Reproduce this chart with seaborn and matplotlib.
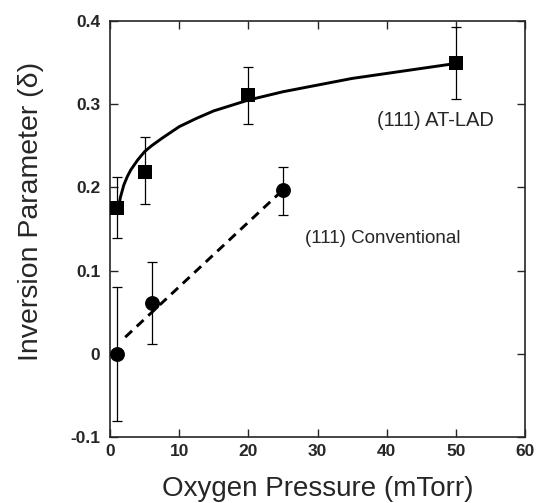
import matplotlib
matplotlib.use("Agg")
import matplotlib.pyplot as plt
import seaborn as sns
import pandas as pd

# AT-LAD (squares)
atlad_x = [1, 5, 20, 50]
atlad_y = [0.175, 0.219, 0.311, 0.350]
atlad_lo = [0.139, 0.180, 0.276, 0.306]
atlad_hi = [0.212, 0.261, 0.345, 0.393]

# fitted curve
fit_x = [1.2, 1.5, 2, 2.5, 3, 4, 5, 6, 7.5, 10, 12.5, 15, 20, 25, 30, 35, 40, 45, 50]
fit_y = [0.174, 0.188, 0.203, 0.213, 0.221, 0.233, 0.243, 0.250, 0.259, 0.273,
         0.283, 0.292, 0.305, 0.315, 0.323, 0.331, 0.337, 0.343, 0.349]

# conventional (circles)
conv_x = [1, 6, 25]
conv_y = [0.0, 0.061, 0.197]
conv_lo = [-0.081, 0.012, 0.167]
conv_hi = [0.080, 0.110, 0.225]

# dashed guide line
dash_x = [2.2, 25]
dash_y = [0.020, 0.197]

x_ticks = [0, 10, 20, 30, 40, 50, 60]
y_ticks = [-0.1, 0, 0.1, 0.2, 0.3, 0.4]
y_labels = ['-0.1', '0', '0.1', '0.2', '0.3', '0.4']

sns.set_style("ticks")
plt.rcParams['font.family'] = ['Liberation Sans', 'DejaVu Sans']

fig = plt.figure(figsize=(5.43, 5.03), dpi=100)
ax = fig.add_axes([0.2026, 0.1312, 0.7643, 0.827])

fit = pd.DataFrame({'x': fit_x, 'y': fit_y})
sns.lineplot(data=fit, x='x', y='y', color='black', linewidth=2.1, ax=ax)

dash = pd.DataFrame({'x': dash_x, 'y': dash_y})
sns.lineplot(data=dash, x='x', y='y', color='black', linewidth=2.1,
             dashes=False, ax=ax).lines[-1].set_dashes((3.2, 2.2))

# error bars
ax.errorbar(atlad_x, atlad_y,
            yerr=[[y - l for y, l in zip(atlad_y, atlad_lo)],
                  [h - y for y, h in zip(atlad_y, atlad_hi)]],
            fmt='none', ecolor='black', elinewidth=0.9, capsize=3.5, capthick=0.9)
ax.errorbar(conv_x, conv_y,
            yerr=[[y - l for y, l in zip(conv_y, conv_lo)],
                  [h - y for y, h in zip(conv_y, conv_hi)]],
            fmt='none', ecolor='black', elinewidth=0.9, capsize=3.5, capthick=0.9)

sns.scatterplot(x=atlad_x, y=atlad_y, marker='s', s=100, color='black',
                edgecolor='black', linewidth=0, ax=ax, zorder=5)
sns.scatterplot(x=conv_x, y=conv_y, marker='o', s=115, color='black',
                edgecolor='black', linewidth=0, ax=ax, zorder=5)

ax.text(38.6, 0.281, '(111) AT-LAD', fontsize=14.5, va='center', ha='left')
ax.text(28.2, 0.139, '(111) Conventional', fontsize=13.5, va='center', ha='left')

ax.set_xlim(0, 60)
ax.set_ylim(-0.1, 0.4)
ax.set_xticks(x_ticks)
ax.set_xticklabels([str(t) for t in x_ticks])
ax.set_yticks(y_ticks)
ax.set_yticklabels(y_labels)
ax.tick_params(direction='in', top=True, right=True, length=6, width=1,
               labelsize=12.5)
ax.tick_params(axis='x', pad=5)
ax.tick_params(axis='y', pad=7)
for lab in ax.get_xticklabels() + ax.get_yticklabels():
    lab.set_fontweight('bold')
for s in ax.spines.values():
    s.set_linewidth(1.2)
    s.set_visible(True)

ax.set_xlabel('Oxygen Pressure (mTorr)', fontsize=20)
ax.set_ylabel('Inversion Parameter (δ)', fontsize=20.5)
ax.xaxis.set_label_coords(0.5, -0.093)
ax.yaxis.set_label_coords(-0.16, 0.543)

fig.savefig('out.png', dpi=100)
